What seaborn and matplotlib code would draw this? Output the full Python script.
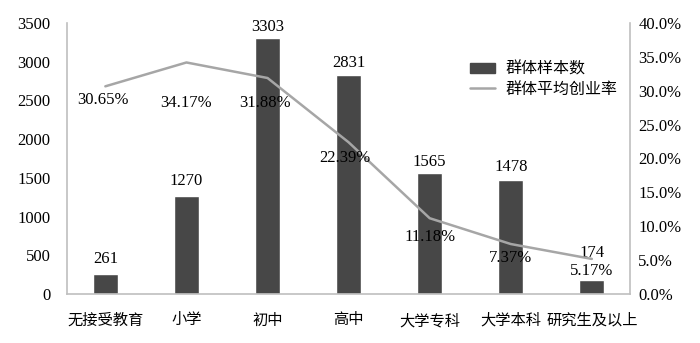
import numpy as np
import pandas as pd
import matplotlib
matplotlib.use("Agg")
import matplotlib.pyplot as plt
import seaborn as sns
from matplotlib.patches import Patch
from matplotlib.lines import Line2D

sns.set_style("white")
plt.rcParams['font.family'] = ['Liberation Serif', 'Noto Sans CJK SC']
plt.rcParams['axes.unicode_minus'] = False
plt.rcParams['text.color'] = 'black'
plt.rcParams['xtick.color'] = 'black'
plt.rcParams['ytick.color'] = 'black'

# data
groups = ["无接受教育", "小学", "初中", "高中", "大学专科", "大学本科", "研究生及以上"]
sample_n = [261, 1270, 3303, 2831, 1565, 1478, 174]
rate = [30.65, 34.17, 31.88, 22.39, 11.18, 7.37, 5.17]
# label nudges (points): % labels sit under the line, counts above bars
label_drop = [10, 29, 18, 11.5, 13.5, 10, 8.5]
label_dx = [-2, 0, -2, -3, 0, 0, 0]
count_lift = [5, 5, 2, 3, 2, 3, 14]

df = pd.DataFrame({"group": groups, "n": sample_n, "rate": rate})

bar_col = "#474747"
line_col = "#a6a6a6"
spine_col = "#bfbfbf"
fs = 12

fig, ax = plt.subplots(figsize=(7, 3.43), dpi=100)
fig.subplots_adjust(left=0.096, right=0.9, top=0.933, bottom=0.143)

sns.barplot(data=df, x="group", y="n", color=bar_col, width=0.31,
            saturation=1, ax=ax)
for i, (v, up) in enumerate(zip(sample_n, count_lift)):
    ax.annotate(str(v), (i, v), xytext=(0, up), textcoords="offset points",
                ha="center", va="bottom", fontsize=fs)
ax.set_ylim(0, 3500)
ax.set_yticks(range(0, 3501, 500))
ax.set_xlabel("")
ax.set_ylabel("")

ax2 = ax.twinx()
sns.lineplot(data=df, x="group", y="rate", color=line_col, linewidth=1.8,
             sort=False, ax=ax2)
ax2.set_ylim(0, 40)
ax2.set_yticks(np.arange(0, 40.1, 5))
ax2.set_yticklabels([f"{v:.1f}%" for v in np.arange(0, 40.1, 5)])
ax2.set_ylabel("")
for i, (v, d, dx) in enumerate(zip(rate, label_drop, label_dx)):
    ax2.annotate(f"{v:.2f}%", (i, v), xytext=(dx, -d), textcoords="offset points",
                 ha="center", va="center", fontsize=fs)

for a in (ax, ax2):
    for s in a.spines.values():
        s.set_visible(False)
    a.tick_params(length=0, labelsize=fs, labelcolor="black")
ax.spines["left"].set_visible(True)
ax.spines["bottom"].set_visible(True)
ax2.spines["right"].set_visible(True)
for s in (ax.spines["left"], ax.spines["bottom"], ax2.spines["right"]):
    s.set_color(spine_col)
    s.set_linewidth(1.2)
ax.tick_params(axis="y", pad=12)
ax2.tick_params(axis="y", pad=6)
ax.tick_params(axis="x", pad=14, labelsize=11)

handles = [Patch(facecolor=bar_col, edgecolor=bar_col),
           Line2D([0], [0], color=line_col, linewidth=1.8)]
ax2.legend(handles, ["群体样本数", "群体平均创业率"], loc="upper left",
           bbox_to_anchor=(0.69, 0.91), frameon=False, fontsize=11.5,
           handlelength=1.6, handleheight=0.6, handletextpad=0.6,
           labelspacing=0.25)

fig.savefig("out.png", dpi=100)
